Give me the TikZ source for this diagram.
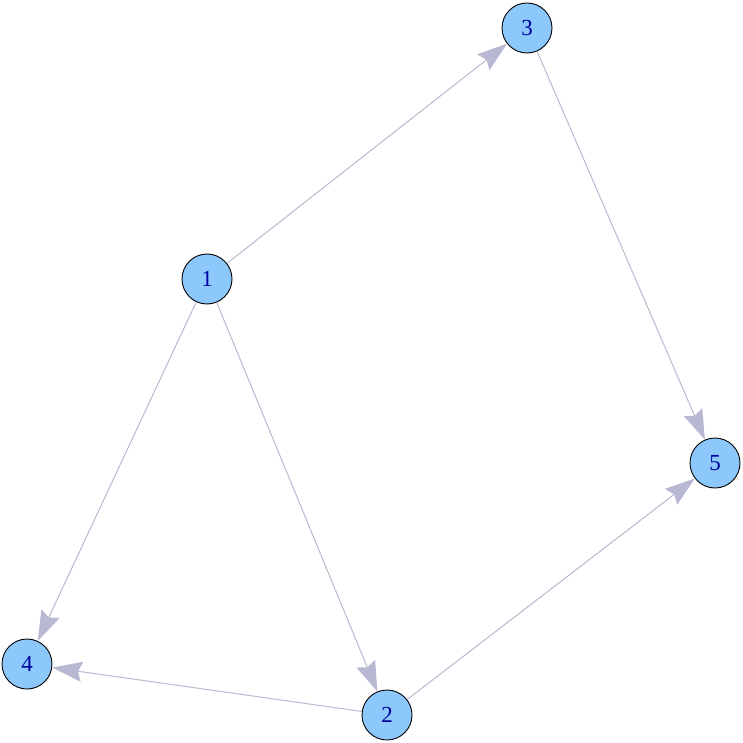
\documentclass[tikz,border=0pt]{standalone}
\usepackage{fontspec}
\setmainfont{Liberation Serif}
\usetikzlibrary{arrows.meta}
\definecolor{vfill}{RGB}{140,200,252}
\definecolor{vlab}{RGB}{0,0,160}
\definecolor{ecol}{RGB}{184,184,210}
\begin{document}
\begin{tikzpicture}[x=1pt,y=-1pt,
  vtx/.style={circle,draw=black,line width=0.9pt,fill=vfill,minimum size=50pt,inner sep=0pt,
    text=vlab,font=\fontsize{23}{23}\selectfont},
  edg/.style={draw=ecol,line width=1pt,-{Stealth[length=30pt,width=20pt,inset=4pt]}}]
\useasboundingbox (0,0) rectangle (742,743);
\node[vtx] (n1) at (207,279) {1};
\node[vtx] (n2) at (387,715) {2};
\node[vtx] (n3) at (527,28) {3};
\node[vtx] (n4) at (27,664) {4};
\node[vtx] (n5) at (715,463) {5};
\draw[edg] (n1) -- (n3);
\draw[edg] (n1) -- (n4);
\draw[edg] (n1) -- (n2);
\draw[edg] (n3) -- (n5);
\draw[edg] (n2) -- (n5);
\draw[edg] (n2) -- (n4);
\end{tikzpicture}
\end{document}
